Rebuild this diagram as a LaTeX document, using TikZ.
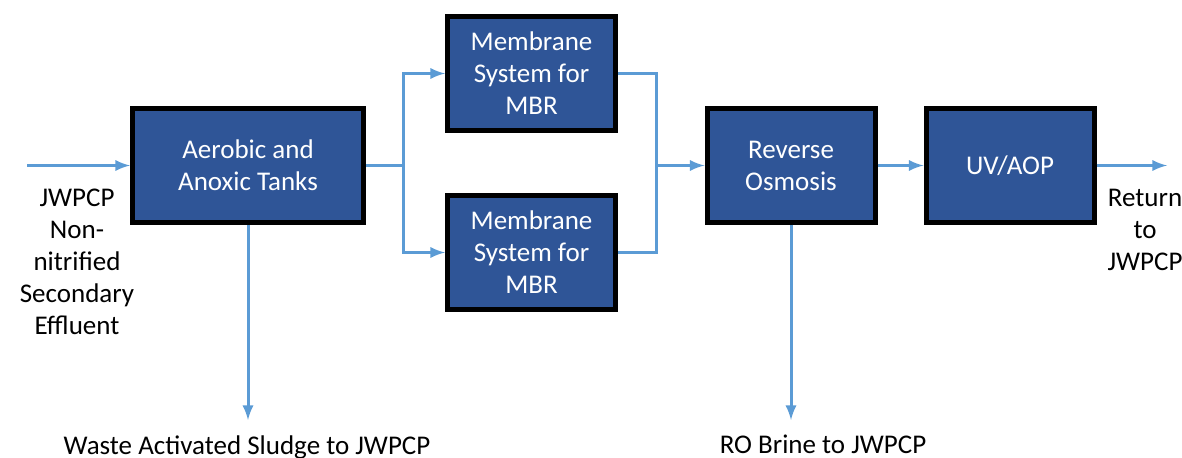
\documentclass[tikz,border=0pt]{standalone}
\usepackage{fontspec}
\setmainfont{Carlito}
\usetikzlibrary{positioning}
\definecolor{boxblue}{HTML}{2F5597}
\definecolor{pipeblue}{HTML}{5B9BD5}

\begin{document}
\begin{tikzpicture}[x=0.5pt,y=-0.5pt]
	\tikzstyle{unitbox} = [draw=black, line width=2.5pt, fill=boxblue, rectangle, text=white, align=center, minimum height=57pt, minimum width=84pt, font=\fontsize{13.5}{16}\selectfont]
	\tikzstyle{note} = [align=center, inner sep=0pt, font=\fontsize{13.5}{16}\selectfont]
	\tikzstyle{pipe} = [draw=pipeblue, line width=1.5pt]
	\tikzstyle{flow} = [pipe, -latex]

	\useasboundingbox (0,0) rectangle (1182,458);

	\node[unitbox, minimum width=115.5pt] (aer) at (248,165.5) {Aerobic and\\Anoxic Tanks};
	\node[unitbox] (mem1) at (531.5,73.5) {Membrane\\System for\\MBR};
	\node[unitbox] (mem2) [below=30pt of mem1] {Membrane\\System for\\MBR};
	\node[unitbox] (ro) at (791,165.5) {Reverse\\Osmosis};
	\node[unitbox] (uv) [right=23pt of ro] {UV/AOP};

	\node[note, anchor=north] (src) at (77,189) {JWPCP\\Non-\\nitrified\\Secondary\\Effluent};
	\node[note, anchor=north] (ret) at (1145,189) {Return\\to\\JWPCP};
	\node[note, anchor=north] (was) at (247,435) {Waste Activated Sludge to JWPCP};
	\node[note, anchor=north] (brine) at (823,435) {RO Brine to JWPCP};

	\coordinate (in) at (27,165.5);
	\coordinate (split) at (403,165.5);
	\coordinate (merge) at (656,165.5);
	\coordinate (out) at (1167,165.5);
	\coordinate (wasend) at (248,420);
	\coordinate (brineend) at (791,420);

	\draw[flow] (in) -- (aer);
	\draw[pipe] (aer) -- (split);
	\draw[flow] (split) |- (mem1);
	\draw[flow] (split) |- (mem2);
	\draw[pipe] (mem1) -| (merge);
	\draw[pipe] (mem2) -| (merge);
	\draw[flow] (merge) -- (ro);
	\draw[flow] (ro) -- (uv);
	\draw[flow] (uv) -- (out);
	\draw[flow] (aer) -- (wasend);
	\draw[flow] (ro) -- (brineend);
\end{tikzpicture}
\end{document}
